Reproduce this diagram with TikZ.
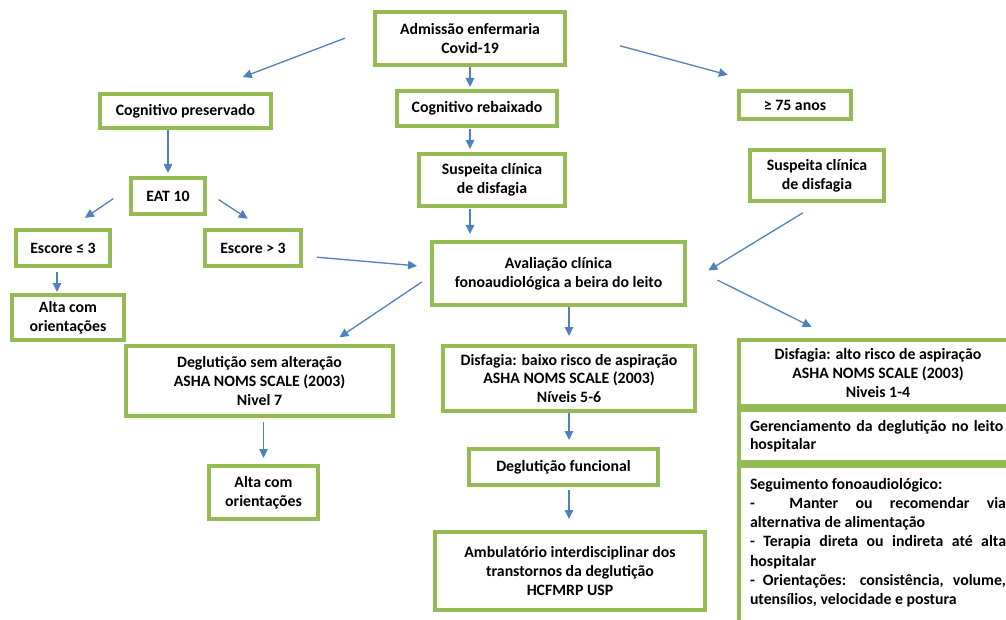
\documentclass[tikz,border=0pt]{standalone}
\usepackage{fontspec}
\setmainfont{Carlito}
\usetikzlibrary{arrows.meta}
\definecolor{boxgreen}{RGB}{150,186,84}
\definecolor{arrblue}{RGB}{79,129,189}

\begin{document}
\begin{tikzpicture}[x=1pt,y=-1pt,
    box/.style={draw=boxgreen, line width=4pt, fill=white, inner sep=0pt, align=center,
      font=\fontsize{15.8}{18.6}\selectfont\bfseries},
    arr/.style={draw=arrblue, line width=1.3pt, -{Triangle[length=9pt,width=8.5pt]}}]
  \useasboundingbox (0,0) rectangle (1006,620);
  \fill[white] (0,0) rectangle (1006,620); % page
  \clip (0,0) rectangle (1006,620); % right boxes run off the page
  % boxes
  \node[box, minimum width=190pt, minimum height=53pt] (adm) at (470,38.5) {Admissão enfermaria\\Covid-19};
  \node[box, minimum width=171pt, minimum height=34pt] (cogp) at (185.5,111) {Cognitivo preservado};
  \node[box, minimum width=160pt, minimum height=35pt] (cogr) at (477,108.5) {Cognitivo rebaixado};
  \node[box, minimum width=112pt, minimum height=28pt] (idade) at (795,105) {≥ 75 anos};
  \node[box, minimum width=146pt, minimum height=52pt] (susp) at (492,180) {Suspeita clínica\\de disfagia};
  \node[box, minimum width=134pt, minimum height=51pt] (suspd) at (817,175.5) {Suspeita clínica\\de disfagia};
  \node[box, minimum width=74pt, minimum height=36pt] (eat) at (168,196) {EAT 10};
  \node[box, minimum width=94pt, minimum height=36pt] (escA) at (63,248) {Escore ≤ 3};
  \node[box, minimum width=96pt, minimum height=36pt] (escB) at (253,248) {Escore > 3};
  \node[box, minimum width=253pt, minimum height=63pt] (aval) at (558.5,273.5) {Avaliação clínica\\fonoaudiológica a beira do leito};
  \node[box, minimum width=112pt, minimum height=45pt] (altaA) at (68,317.5) {Alta com\\orientações};
  \node[box, minimum width=267pt, minimum height=70pt] (degs) at (259.5,381) {Deglutição sem alteração\\ASHA NOMS SCALE (2003)\\Nivel 7};
  \node[box, minimum width=252pt, minimum height=65pt] (disb) at (569,378.5) {Disfagia: baixo risco de aspiração\\ASHA NOMS SCALE (2003)\\Níveis 5-6};
  \node[box, minimum width=109pt, minimum height=53pt] (altaB) at (263.5,492.5) {Alta com\\orientações};
  \node[box, minimum width=189pt, minimum height=36pt] (degf) at (563.5,467) {Deglutição funcional};
  \node[box, minimum width=270pt, minimum height=78pt] (amb) at (570,571) {Ambulatório interdisciplinar dos\\transtornos da deglutição\\HCFMRP USP};
  \node[box, minimum width=278pt, minimum height=66pt] (disa) at (878,373) {Disfagia: alto risco de aspiração\\ASHA NOMS SCALE (2003)\\Niveis 1-4};
  \node[box, minimum width=278pt, minimum height=52pt, text width=256pt, align=left, inner xsep=11pt] (ger) at (878,436) {Gerenciamento da deglutição no leito\\hospitalar};
  \node[box, anchor=north, inner xsep=11pt, inner ysep=12pt] (seg) at (878,464) {\parbox[t][170pt][t]{256pt}{%
    \baselineskip=19.3pt
    Seguimento fonoaudiológico:\\
    \makebox[\linewidth][s]{- \ Manter ou recomendar via}\\
    alternativa de alimentação\\
    \makebox[\linewidth][s]{- Terapia direta ou indireta até alta}\\
    hospitalar\\
    \makebox[\linewidth][s]{- Orientações: consistência, volume,}\\
    utensílios, velocidade e postura}};
  % arrows
  \draw[arr, shorten <=30pt, shorten >=42pt] ([yshift=11pt]adm.west) -- ([xshift=18pt]cogp.north);
  \draw[arr, shorten <=55pt, shorten >=54pt] ([yshift=7pt]adm.east) -- ([xshift=-15pt]idade.north);
  \draw[arr, shorten >=2pt] (adm.south) -- (adm.south |- cogr.north);
  \draw[arr, shorten <=1pt, shorten >=3pt] (adm.south |- cogr.south) -- (adm.south |- susp.north);
  \draw[arr, shorten <=1pt, shorten >=6pt] (adm.south |- susp.south) -- (adm.south |- aval.north);
  \draw[arr, shorten >=3pt] (eat.north |- cogp.south) -- (eat.north);
  \draw[arr, shorten <=19pt, shorten >=18pt] ([yshift=8pt]eat.west) -- ([xshift=7pt]escA.north);
  \draw[arr, shorten <=14pt, shorten >=17pt] ([yshift=4pt]eat.east) -- ([xshift=9pt]escB.north);
  \draw[arr, shorten <=4pt, shorten >=1pt] ([xshift=-6pt]escA.south) -- ([xshift=-6pt]escA.south |- altaA.north);
  \draw[arr, shorten <=14pt, shorten >=13pt] ([yshift=-8pt]escB.east) -- ([yshift=6.5pt]aval.west);
  \draw[arr, shorten <=19pt, shorten >=25pt] ([xshift=2pt]suspd.south) -- ([yshift=-10pt]aval.east);
  \draw[arr, shorten <=10pt, shorten >=12pt] ([yshift=-3pt]aval.west) -- ([xshift=70pt]degs.north);
  \draw[arr, shorten >=8pt] (disb.north |- aval.south) -- (disb.north);
  \draw[arr, shorten <=34pt, shorten >=25pt] ([yshift=8.5pt]aval.east) -- ([xshift=-44pt]disa.north);
  \draw[arr, shorten <=4pt, shorten >=6pt] (altaB.north |- degs.south) -- (altaB.north);
  \draw[arr, shorten >=7pt] (disb.south) -- (disb.south |- degf.north);
  \draw[arr, shorten <=3pt, shorten >=11pt] (disb.south |- degf.south) -- (disb.south |- amb.north);
\end{tikzpicture}
\end{document}
